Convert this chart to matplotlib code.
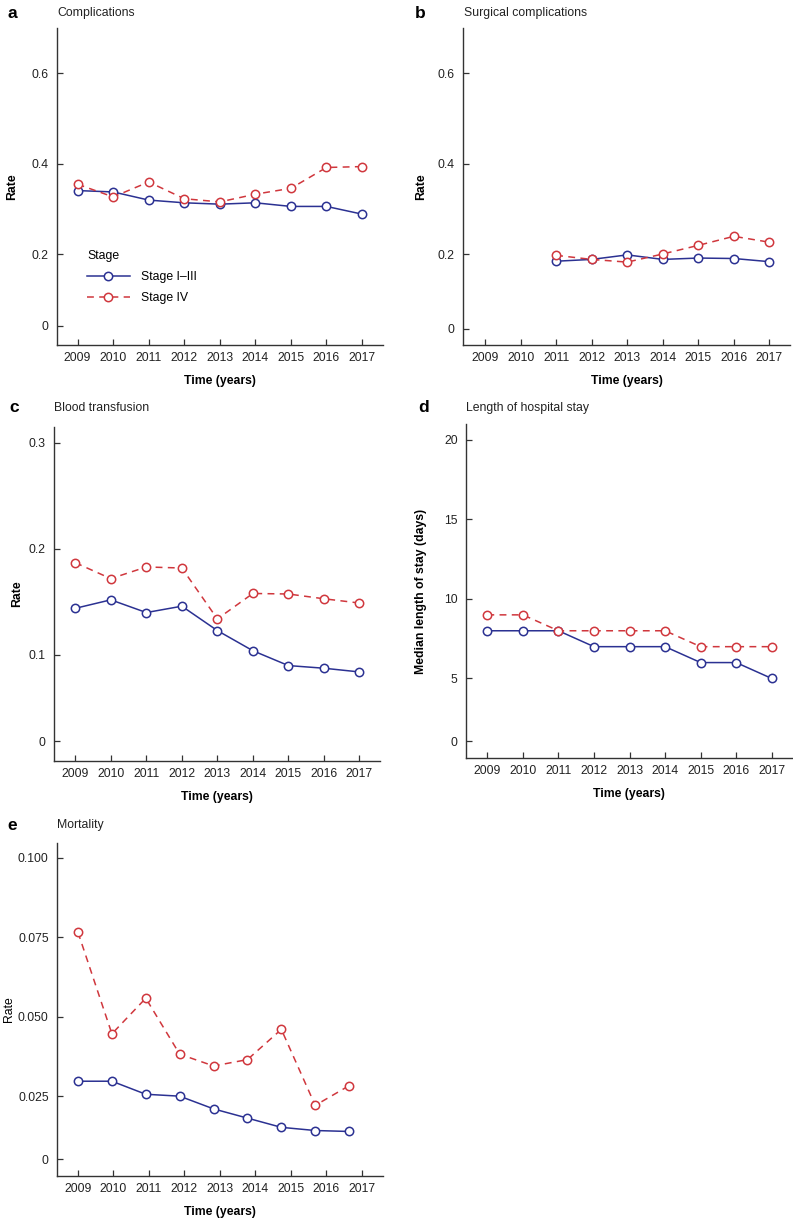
import numpy as np
import matplotlib
matplotlib.use("Agg")
import matplotlib.pyplot as plt

plt.rcParams["font.family"] = ["Liberation Sans", "DejaVu Sans"]

years = [2009, 2010, 2011, 2012, 2013, 2014, 2015, 2016, 2017]
year_labels = [str(y) for y in years]

# a: complications
comp_early = [0.341, 0.338, 0.320, 0.314, 0.311, 0.314, 0.306, 0.306, 0.289]
comp_late = [0.355, 0.327, 0.360, 0.323, 0.316, 0.333, 0.346, 0.392, 0.394]

# b: surgical complications (from 2011 only)
surg_years = [2011, 2012, 2013, 2014, 2015, 2016, 2017]
surg_early = [0.185, 0.189, 0.199, 0.189, 0.192, 0.191, 0.184]
surg_late = [0.198, 0.189, 0.183, 0.201, 0.220, 0.240, 0.227]

# c: blood transfusion
trans_early = [0.144, 0.152, 0.140, 0.146, 0.123, 0.104, 0.090, 0.0875, 0.084]
trans_late = [0.187, 0.172, 0.183, 0.182, 0.134, 0.158, 0.1575, 0.153, 0.149]

# d: length of stay
los_early = [8, 8, 8, 7, 7, 7, 6, 6, 5]
los_late = [9, 9, 8, 8, 8, 8, 7, 7, 7]

# e: mortality
mort_early = [0.0298, 0.0298, 0.0257, 0.0251, 0.0211, 0.0182, 0.0153, 0.0143, 0.0140]
mort_late = [0.0766, 0.0447, 0.0559, 0.0383, 0.0346, 0.0366, 0.0461, 0.0222, 0.0284]

BLUE = "#2b3192"
RED = "#d0373d"
AXC = "#333333"

W, H = 793, 1219
fig = plt.figure(figsize=(W / 100, H / 100), dpi=100)


def px_axes(left, top, right, bottom):
    return fig.add_axes([left / W, 1 - bottom / H, (right - left) / W, (bottom - top) / H])


def draw_panel(ax, x, early, late, xlim, ylim, yticks, ylabels, ylabel,
               ylab_bold=True, ylab_x=-0.13, xtick_pos=None, legend=False):
    ax.plot(x, early, color=BLUE, lw=1.1, marker="o", ms=6, mfc="white",
            mec=BLUE, mew=1.1, label="Stage I\u2013III", zorder=3)
    ax.plot(x, late, color=RED, lw=1.1, ls=(0, (4.5, 3.5)), marker="o", ms=6,
            mfc="white", mec=RED, mew=1.1, label="Stage IV", zorder=3)
    ax.set_xlim(*xlim)
    ax.set_ylim(*ylim)
    if xtick_pos is None:
        xtick_pos = years
    ax.set_xticks(xtick_pos)
    ax.set_xticklabels(year_labels)
    ax.set_yticks(yticks)
    ax.set_yticklabels(ylabels)
    for s in ["top", "right"]:
        ax.spines[s].set_visible(False)
    for s in ["left", "bottom"]:
        ax.spines[s].set_color(AXC)
        ax.spines[s].set_linewidth(1.0)
    ax.tick_params(axis="both", direction="in", length=4, width=0.9,
                   color=AXC, labelsize=8.8, labelcolor="#222222")
    ax.tick_params(axis="x", pad=5)
    ax.tick_params(axis="y", pad=6)
    ax.set_xlabel("Time (years)", fontsize=8.8, fontweight="bold", labelpad=8)
    ax.set_ylabel(ylabel, fontsize=8.8,
                  fontweight="bold" if ylab_bold else "normal")
    ax.yaxis.label.set_va("center")
    ax.yaxis.set_label_coords(ylab_x, 0.5)
    if legend:
        ax.legend(loc="upper left", bbox_to_anchor=(0.058, 0.335),
                  frameon=False, title="Stage", fontsize=8.8,
                  title_fontsize=8.8, handlelength=3.5,
                  handletextpad=0.9, labelspacing=0.75,
                  alignment="left")


def panel_title(x_letter, x_title, y, letter, title):
    fig.text(x_letter / W, 1 - y / H, letter, fontsize=12.5, fontweight="bold",
             va="center", ha="left")
    fig.text(x_title / W, 1 - y / H, title, fontsize=8.8, va="center", ha="left",
             color="#222222")


# a
ax_a = px_axes(57, 28, 383, 345)
draw_panel(ax_a, years, comp_early, comp_late, (2008.42, 2017.59), (0, 0.7),
           [0.042, 0.2, 0.4, 0.6], ["0", "0.2", "0.4", "0.6"], "Rate",
           ylab_x=-0.138, legend=True)
panel_title(7, 57, 13, "a", "Complications")

# b
ax_b = px_axes(463, 28, 790, 345)
draw_panel(ax_b, surg_years, surg_early, surg_late, (2008.38, 2017.58), (0, 0.7),
           [0.036, 0.2, 0.4, 0.6], ["0", "0.2", "0.4", "0.6"], "Rate",
           ylab_x=-0.128)
panel_title(415, 464, 13, "b", "Surgical complications")

# c
ax_c = px_axes(54, 427, 380, 761)
draw_panel(ax_c, years, trans_early, trans_late, (2008.4, 2017.58), (0, 0.315),
           [0.0185, 0.1, 0.2, 0.3], ["0", "0.1", "0.2", "0.3"], "Rate",
           ylab_x=-0.114)
panel_title(9, 54, 408, "c", "Blood transfusion")

# d
ax_d = px_axes(466, 424, 792, 758)
draw_panel(ax_d, years, los_early, los_late, (2008.4, 2017.57), (0, 21),
           [1.06, 5, 10, 15, 20], ["0", "5", "10", "15", "20"],
           "Median length of stay (days)", ylab_x=-0.139)
panel_title(418, 466, 408, "d", "Length of hospital stay")

# e (data points are drawn slightly tighter than the tick grid)
ax_e = px_axes(57, 843, 383, 1176)
e_ticks = [2009 + (y - 2009) * 1.047 for y in years]
draw_panel(ax_e, years, mort_early, mort_late, (2008.38, 2018.0), (0, 0.1047),
           [0.0053, 0.025, 0.05, 0.075, 0.1],
           ["0", "0.025", "0.050", "0.075", "0.100"], "Rate",
           ylab_bold=False, ylab_x=-0.148, xtick_pos=e_ticks)
panel_title(7, 57, 825, "e", "Mortality")

fig.savefig("out.png", dpi=100)
